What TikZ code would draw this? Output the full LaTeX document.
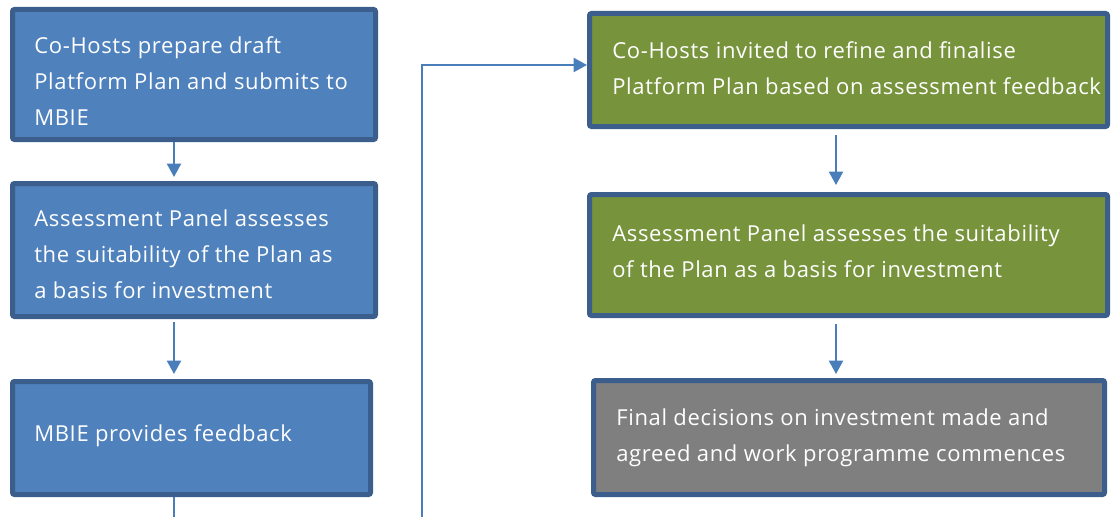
\documentclass[tikz,border=0pt]{standalone}
\usepackage{fontspec}
\setmainfont{Open Sans}[LetterSpace=3]
\usetikzlibrary{arrows.meta,calc}
\definecolor{boxblue}{HTML}{4F81BD}
\definecolor{boxgreen}{HTML}{77933C}
\definecolor{boxgray}{HTML}{7F7F7F}
\definecolor{edgeblue}{HTML}{3B5E8C}
\definecolor{linkblue}{HTML}{4A7EBB}
\tikzset{
  flowbox/.style={draw=edgeblue, line width=3.75pt, rounded corners=1.5pt, inner sep=0pt},
  bluebox/.style={flowbox, fill=boxblue},
  greenbox/.style={flowbox, fill=boxgreen},
  graybox/.style={flowbox, fill=boxgray},
  boxtext/.style={anchor=base west, inner sep=0pt, align=left, text=white,
    font=\fontsize{16.5}{27}\selectfont},
  link/.style={draw=linkblue, line width=1.5pt, -{Triangle[width=10.5pt,length=10pt]}},
  plainlink/.style={draw=linkblue, line width=1.5pt}
}
\begin{document}
\begin{tikzpicture}[x=0.75pt,y=-0.75pt]
\useasboundingbox (0,0) rectangle (1112,517);
% boxes
\node[bluebox, minimum width=272.25pt, minimum height=97.5pt] (b1) at (194,74.5) {};
\node[bluebox, minimum width=272.25pt, minimum height=99.75pt] (b2) at (194,250) {};
\node[bluebox, minimum width=268.5pt, minimum height=84.75pt] (b3) at (191.5,438) {};
\node[greenbox, minimum width=388.5pt, minimum height=84.75pt] (g1) at (848.5,70) {};
\node[greenbox, minimum width=388.5pt, minimum height=90.75pt] (g2) at (848.5,255) {};
\node[graybox, minimum width=383.25pt, minimum height=85.5pt] (g3) at (849,437.5) {};
% texts (anchored at the baseline of the last line)
\node[boxtext] (t1) at (34,125) {Co-Hosts prepare draft\\Platform Plan and submits to\\MBIE};
\node[boxtext] (t2) at (34,298) {Assessment Panel assesses\\the suitability of the Plan as\\a basis for investment};
\node[boxtext] (t3) at (34,441) {MBIE provides feedback};
\node[boxtext] (t4) at (612,94) {Co-Hosts invited to refine and finalise\\Platform Plan based on assessment feedback};
\node[boxtext] (t5) at (612,277) {Assessment Panel assesses the suitability\\of the Plan as a basis for investment};
\node[boxtext] (t6) at (616,461) {Final decisions on investment made and\\agreed and work programme commences};
% connectors
\coordinate (e1) at (174,177);
\coordinate (e2) at (174,374);
\coordinate (e3) at (836,185);
\coordinate (e4) at (836,374);
\coordinate (d1) at (174,517);
\coordinate (d2) at (422,517);
\coordinate (k) at (422,65);
\draw[link] (b1.south -| e1) -- (e1);
\draw[link] (b2.south -| e2) ++(0,3) -- (e2);
\draw[plainlink] (b3.south -| d1) -- (d1);
\draw[link] (d2) -- (k) -- (k -| g1.west);
\draw[link] (g1.south -| e3) ++(0,6) -- (e3);
\draw[link] (g2.south -| e4) ++(0,6) -- (e4);
\end{tikzpicture}
\end{document}
